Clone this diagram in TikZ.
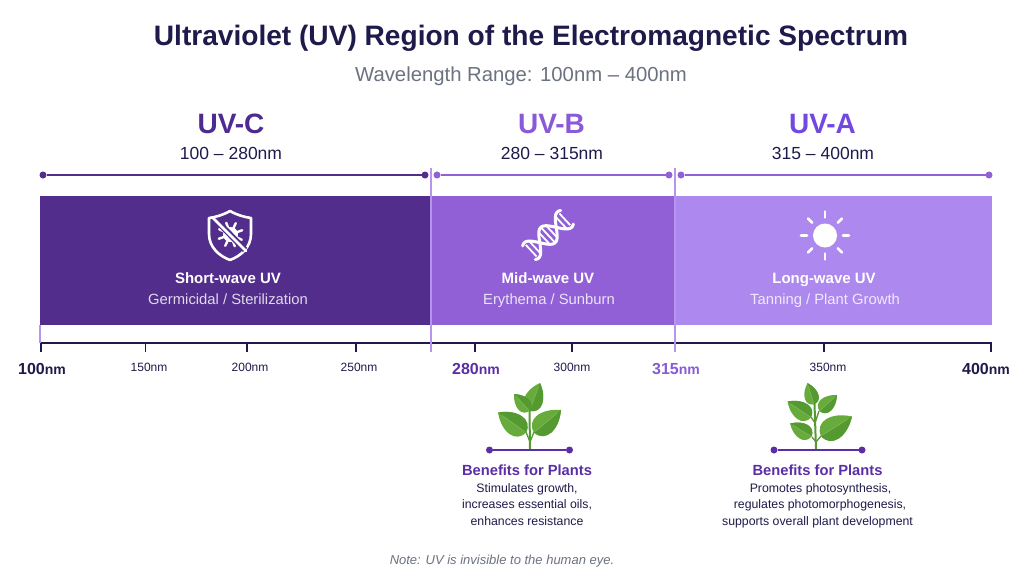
\documentclass[tikz,border=0pt]{standalone}
\usepackage{fontspec}
\setmainfont{Liberation Sans}
\usetikzlibrary{calc}
\definecolor{ink}{HTML}{1E1B4B}
\definecolor{slategrey}{HTML}{6B7280}
\definecolor{uvcfill}{HTML}{522D8C}
\definecolor{uvbfill}{HTML}{9160D6}
\definecolor{uvafill}{HTML}{AD88EE}
\definecolor{uvctext}{HTML}{4F2A91}
\definecolor{uvbtext}{HTML}{8A5AD6}
\definecolor{uvatext}{HTML}{7248E0}
\definecolor{benefit}{HTML}{5B2EA6}
\definecolor{divider}{HTML}{B595EE}
\definecolor{leafdark}{HTML}{559A30}
\definecolor{leaflight}{HTML}{66AB3B}
\definecolor{leafrib}{HTML}{84BE5C}
\newcommand{\fs}[1]{\fontsize{#1}{#1}\selectfont}
% A leaf from base (#1,#2) to tip (#3,#4): one blade, a slightly darker half and a pale midrib
\newcommand{\plantleaf}[4]{%
  \pgfmathsetmacro{\leafang}{atan2(-(#4-#2),#3-#1)}%
  \pgfmathsetmacro{\leaflen}{veclen(#3-#1,#4-#2)}%
  \begin{scope}[shift={(#1,#2)},rotate=\leafang,scale=\leaflen]
    \fill[leaflight] (0,0) .. controls (.06,-.42) and (.58,-.42) .. (1,0)
      .. controls (.58,.42) and (.06,.42) .. (0,0) -- cycle;
    \fill[leafdark] (0,0) .. controls (.06,.42) and (.58,.42) .. (1,0) -- cycle;
    \draw[leafrib,line width=.5pt] (0.05,0) -- (.85,0);
  \end{scope}}
\tikzset{
  every node/.style={inner sep=0pt,outer sep=0pt,text=ink},
  label/.style={anchor=base},
  band/.style={anchor=north west,minimum height=129pt,draw=none},
  rangedot/.style={circle,minimum size=7pt},
  rangeline/.style={line width=2pt},
  tick/.style={draw=ink,line width=1.5pt},
  axis/.style={draw=ink,line width=2.2pt},
  divide/.style={draw=divider,line width=1.4pt},
  bandhead/.style={label,font=\fs{15}\bfseries,text=white},
  bandsub/.style={label,font=\fs{14.8},text=white,text opacity=.82},
  ticklabel/.style={label,font=\fs{12}},
  majorlabel/.style={label,font=\fs{16}\bfseries},
  rangehead/.style={label,font=\fs{28}\bfseries},
  rangesub/.style={label,font=\fs{17.5}},
  benefithead/.style={label,font=\fs{14.7}\bfseries,text=benefit},
  benefitbody/.style={label,font=\fs{12.3}},
  iconline/.style={draw=white,line width=2.6pt,line cap=round,line join=round},
}
\begin{document}
\begin{tikzpicture}[x=1pt,y=-1pt]
\useasboundingbox (0,0) rectangle (1024,576);
\fill[white] (0,0) rectangle (1024,576);

% Heading
\node[label] (title) at (531,45) {\fs{28.1}\bfseries Ultraviolet (UV) Region of the Electromagnetic Spectrum};
\node[label,text=slategrey] (subtitle) at (521,81.5) {\fs{20.3}Wavelength Range: 100nm – 400nm};

% Range names
\node[rangehead,text=uvctext] (cname) at (231,133) {UV-C};
\node[rangehead,text=uvbtext] (bname) at (551.5,133) {UV-B};
\node[rangehead,text=uvatext] (aname) at (822.5,133) {UV-A};
\node[rangesub] (crange) at (231,159) {100 – 280nm};
\node[rangesub] (brange) at (552,159) {280 – 315nm};
\node[rangesub] (arange) at (823,159) {315 – 400nm};

% Bands
\node[band,fill=uvcfill,minimum width=391pt] (cband) at (40,196) {};
\node[band,fill=uvbfill,minimum width=244pt] (bband) at (431,196) {};
\node[band,fill=uvafill,minimum width=317pt] (aband) at (675,196) {};

% Range brackets above the bands
\node[rangedot,fill=uvcfill] (cl) at (43,175) {};
\node[rangedot,fill=uvcfill] (cr) at (425,175) {};
\node[rangedot,fill=uvbfill] (bl) at (437,175) {};
\node[rangedot,fill=uvbfill] (br) at (669,175) {};
\node[rangedot,fill=uvbfill] (al) at (681,175) {};
\node[rangedot,fill=uvbfill] (ar) at (989,175) {};
\draw[rangeline,draw=uvcfill] (cl) -- (cr);
\draw[rangeline,draw=uvbfill] (bl) -- (br);
\draw[rangeline,draw=uvbfill] (al) -- (ar);

% Wavelength axis and ticks
\coordinate (axl) at (40,343);
\coordinate (axr) at (992,343);
\draw[axis] (axl) -- (axr);
\foreach \tx in {41,145.5,247,356,475,572,824,991}
  \draw[tick] (\tx,343) -- (\tx,352);

% Dividers through the band boundaries
\coordinate (dat) at (431,168);
\coordinate (dab) at (431,352);
\coordinate (dbt) at (675,168);
\coordinate (dbb) at (675,352);
\coordinate (dct) at (40,325);
\coordinate (dcb) at (40,343);
\draw[divide] (dat) -- (dab);
\draw[divide] (dbt) -- (dbb);
\draw[divide] (dct) -- (dcb);

% Axis labels
\node[majorlabel] (l100) at (42,374.5) {100\fs{14}nm};
\node[ticklabel] (l150) at (149,371.5) {150nm};
\node[ticklabel] (l200) at (250,371.5) {200nm};
\node[ticklabel] (l250) at (359,371.5) {250nm};
\node[majorlabel,text=benefit] (l280) at (476,374.5) {280\fs{14}nm};
\node[ticklabel] (l300) at (572,371.5) {300nm};
\node[majorlabel,text=uvbtext] (l315) at (676,374.5) {315\fs{14}nm};
\node[ticklabel] (l350) at (828,371.5) {350nm};
\node[majorlabel] (l400) at (986,374.5) {400\fs{14}nm};

% Band captions
\node[bandhead] (chead) at (228,283) {Short-wave UV};
\node[bandsub] (csub) at (228,304) {Germicidal / Sterilization};
\node[bandhead] (bhead) at (548,283) {Mid-wave UV};
\node[bandsub] (bsub) at (549,304) {Erythema / Sunburn};
\node[bandhead] (ahead) at (824,283) {Long-wave UV};
\node[bandsub] (asub) at (825,304) {Tanning / Plant Growth};

% Shield with a crossed-out germ
\draw[iconline] (230,211) .. controls (237,215) and (244,217) .. (251,218)
  -- (251,234) .. controls (251,247) and (241,256) .. (230,260)
  .. controls (219,256) and (209,247) .. (209,234) -- (209,218)
  .. controls (216,217) and (223,215) .. (230,211) -- cycle;
\fill[white] (230.5,234.5) circle (7.5pt);
\foreach \a in {20,65,...,335}{
  \draw[white,line width=2.4pt,line cap=round] (230.5,234.5) -- ++(\a:12.5pt);
}
\draw[uvcfill,line width=6pt] (216,220) -- (245,250);
\draw[iconline] (213,218) -- (246,251);

% DNA helix
\begin{scope}[shift={(548,235)},rotate=43]
  \draw[iconline,line width=3pt,domain=-26:26,samples=60,smooth]
    plot (\x,{10.5*cos(\x*8)});
  \draw[iconline,line width=3pt,domain=-26:26,samples=60,smooth]
    plot (\x,{-10.5*cos(\x*8)});
  \foreach \rx/\rh in {-5/7,0/9,5/7,-23/8,-18/8,23/8,18/8}
    \draw[white,line width=1.8pt] (\rx,-\rh) -- (\rx,\rh);
\end{scope}

% Sun
\fill[white] (825,235.5) circle (12pt);
\foreach \a in {0,45,...,315}
  \draw[white,line width=2.6pt,line cap=round] (825,235.5) ++(\a:18pt) -- ++(\a:6pt);

% Plant under UV-B
\coordinate (p1base) at (530,449);
\coordinate (p1top) at (529.5,411);
\draw[leafdark,line width=2pt] (p1base) -- (p1top);
\draw[leafdark,line width=1.3pt] (530,442) -- (526,432);
\draw[leafdark,line width=1.3pt] (530,442) -- (534,432);
\plantleaf{529.5}{411}{540}{383}
\plantleaf{529.5}{411}{514}{394}
\plantleaf{526}{432.5}{498}{412.5}
\plantleaf{534}{432.5}{561}{410}
\node[rangedot,fill=benefit] (p1l) at (489.5,450) {};
\node[rangedot,fill=benefit] (p1r) at (569.5,450) {};
\draw[rangeline,draw=benefit] (p1l) -- (p1r);

% Plant under UV-A
\coordinate (p2base) at (816,449);
\coordinate (p2top) at (814.5,404);
\draw[leafdark,line width=2pt] (p2base) -- (p2top);
\draw[leafdark,line width=1.3pt] (816,442) -- (812,437);
\draw[leafdark,line width=1.3pt] (816,442) -- (821,436);
\draw[leafdark,line width=1.3pt] (815,423) -- (811,417);
\draw[leafdark,line width=1.3pt] (815,423) -- (819,411);
\plantleaf{814}{404.5}{807.5}{383}
\plantleaf{819.5}{411}{837}{395}
\plantleaf{811}{417.5}{787.5}{401.5}
\plantleaf{811.5}{436.5}{790}{423.5}
\plantleaf{821}{436}{852}{416.5}
\node[rangedot,fill=benefit] (p2l) at (774,450) {};
\node[rangedot,fill=benefit] (p2r) at (862,450) {};
\draw[rangeline,draw=benefit] (p2l) -- (p2r);

% Plant benefit notes
\node[benefithead] (bb0) at (527,475) {Benefits for Plants};
\node[benefitbody] (bb1) at (527,492.5) {Stimulates growth,};
\node[benefitbody] (bb2) at (527,508.5) {increases essential oils,};
\node[benefitbody] (bb3) at (527,525) {enhances resistance};
\node[benefithead] (ab0) at (817.5,475) {Benefits for Plants};
\node[benefitbody] (ab1) at (820.5,492.5) {Promotes photosynthesis,};
\node[benefitbody] (ab2) at (820,508.5) {regulates photomorphogenesis,};
\node[benefitbody] (ab3) at (817.5,525) {supports overall plant development};

% Footnote
\node[label,text=slategrey] (note) at (502,564.5) {\fs{13}\itshape Note: UV is invisible to the human eye.};
\end{tikzpicture}
\end{document}
